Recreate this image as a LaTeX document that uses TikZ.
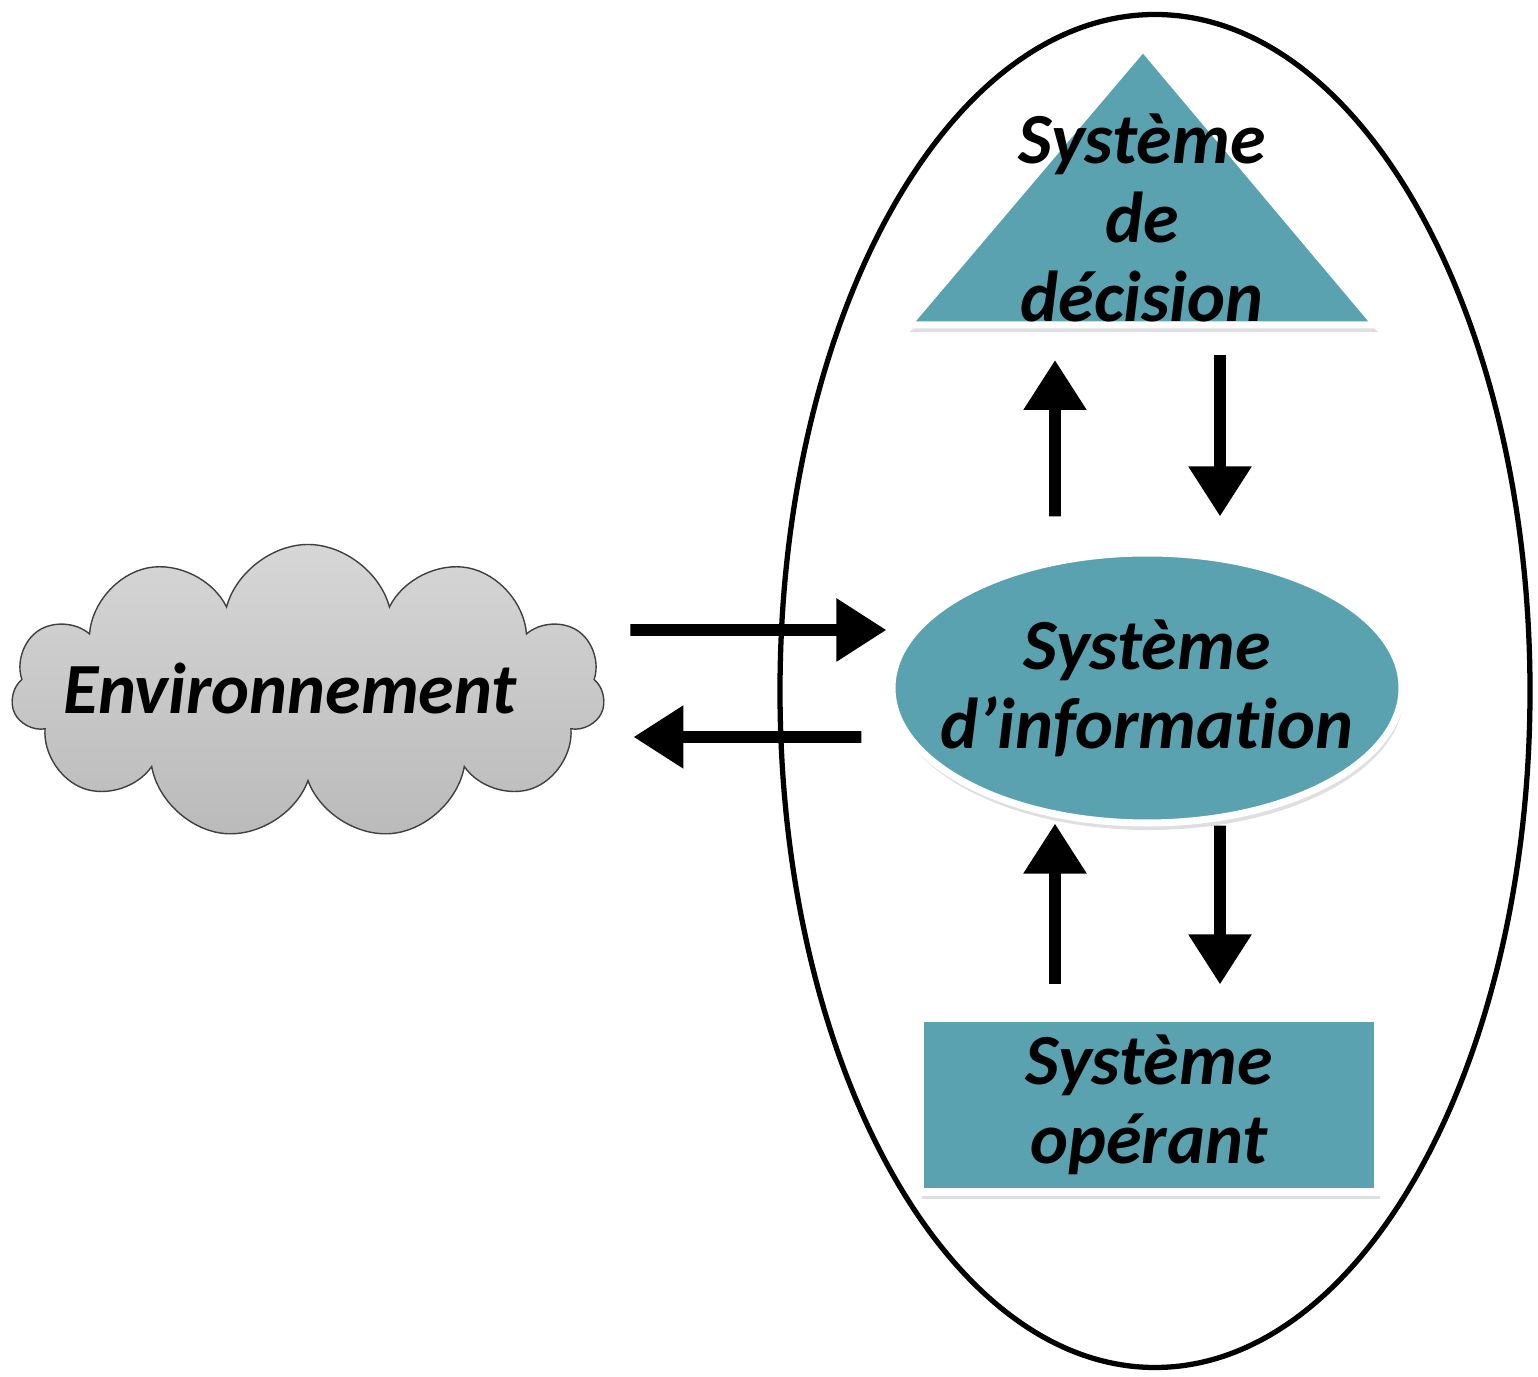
\documentclass[tikz,border=0pt]{standalone}
\usepackage{fontspec}
\setmainfont{Carlito}[Ligatures=NoCommon]
\usetikzlibrary{positioning,shapes.geometric,shapes.symbols,arrows.meta,shadows}
\definecolor{tealbox}{RGB}{90,162,175}

\begin{document}
\begin{tikzpicture}[
                every node/.style={font=\fontsize{20.5}{22.4}\selectfont\bfseries\itshape, align=center},
                sysbox/.style={fill=tealbox, draw=white, line width=2pt,
                  drop shadow={opacity=0.25, shadow xshift=0.5pt, shadow yshift=-2pt}},
                bigarrow/.style={line width=3.4pt, -{Triangle[length=5mm, width=6mm]}}
                ]
                \useasboundingbox (0,0) rectangle (15.38,13.77);
                % Boundary of the organisation
                \node[draw, ellipse, line width=1.5pt, minimum width=7.5cm, minimum height=13.53cm] (org) at (11.55,6.86) {};
                % Decision system
                \fill[sysbox] (11.43,13.29) -- (9.08,10.52) -- (13.76,10.52) -- cycle;
                \coordinate (decbase) at (11.43,10.52);
                \node (decision) at (11.42,11.59) {Système\\de\\décision};
                % Information system
                \node[sysbox, ellipse, minimum width=5.1cm, minimum height=2.7cm] (info) at (11.47,6.89) {};
                \node (infotext) at (info) {Système\\d’information};
                % Operating system
                \node[sysbox, rectangle, minimum width=4.58cm, minimum height=1.74cm] (oper) at (11.49,2.72) {};
                \node (opertext) at (oper) {Système\\opérant};
                % Environment
                \node[cloud, cloud puffs=11, aspect=2, draw=black!75, thin, top color=black!16, bottom color=black!27,
                      inner sep=0pt, minimum width=5.93cm, minimum height=2.95cm] (env) at (3.08,6.85) {};
                \node (envtext) at (2.90,6.89) {Environnement};
                % Flows
                \draw[bigarrow] ([shift={(0.27,0.62)}]env.east) -- ([shift={(-0.02,0.58)}]info.west);
                \draw[bigarrow] ([shift={(-0.27,-0.49)}]info.west) -- ([shift={(0.30,-0.45)}]env.east);
                \draw[bigarrow] ([shift={(-0.92,0.33)}]info.north) -- ([shift={(-0.88,-0.35)}]decbase);
                \draw[bigarrow] ([shift={(0.77,-0.30)}]decbase) -- ([shift={(0.73,0.33)}]info.north);
                \draw[bigarrow] ([shift={(-0.94,0.30)}]oper.north) -- ([shift={(-0.92,0.03)}]info.south);
                \draw[bigarrow] ([shift={(0.73,0.01)}]info.south) -- ([shift={(0.71,0.30)}]oper.north);
              \end{tikzpicture}
\end{document}
